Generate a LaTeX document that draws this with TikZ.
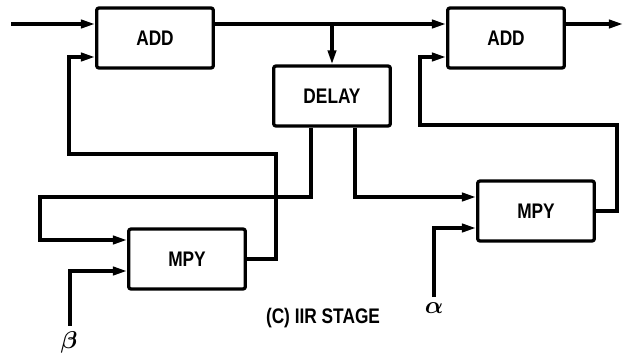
\documentclass[tikz,border=0pt]{standalone}
\usepackage{fontspec}
\setmainfont{Liberation Sans}[FakeStretch=0.82]
\usepackage{bm}
\usetikzlibrary{arrows.meta, positioning, calc}

\begin{document}
\begin{tikzpicture}[x=0.03cm, y=-0.03cm, line width=2.8pt,
  block/.style={draw, rounded corners=2pt, minimum width=3.5cm, minimum height=1.8cm,
    font=\bfseries\fontsize{18}{18}\selectfont},
  sig/.style={-{Triangle[length=12pt, width=7pt]}}]
  \useasboundingbox (0,0) rectangle (623,358);

  \node[block] (add1)  at (155,38)  {ADD};
  \node[block] (add2)  at (506,38)  {ADD};
  \node[block] (delay) at (332,96)  {DELAY};
  \node[block] (mpy1)  at (187,259) {MPY};
  \node[block] (mpy2)  at (536,211) {MPY};

  \node (beta)  at (69,342)  {\fontsize{20}{20}\selectfont$\bm{\beta}$};
  \node (alpha) at (434,308) {\fontsize{20}{20}\selectfont$\bm{\alpha}$};
  \node[font=\bfseries\fontsize{18}{18}\selectfont] (caption) at (323,318) {(C) IIR STAGE};

  \coordinate (in)  at (11,24);
  \coordinate (out) at (623,24);
  \coordinate (tap) at (delay.north |- in);

  \draw[sig] (in) -- (in -| add1.west);
  \draw[sig] (add1.east |- in) -- (add2.west |- in);
  \draw[sig] (tap) -- (delay.north);
  \draw[sig] (add2.east |- in) -- (out);

  \draw[sig] (mpy1.east) -| (276,154) -| (69,57) -- ($(add1.west)+(0,19)$);
  \draw[sig] (mpy2.east) -| (617,125) -| (420,57) -- ($(add2.west)+(0,19)$);

  \draw[sig] ($(delay.south)+(-21,0)$) |- (40,197) |- ($(mpy1.west)+(0,-19)$);
  \draw[sig] ($(delay.south)+(23,0)$) |- ($(mpy2.west)+(0,-14)$);

  \draw[sig] ($(beta.north)+(1,0)$) |- ($(mpy1.west)+(0,12)$);
  \draw[sig] (alpha.north) |- ($(mpy2.west)+(0,17)$);
\end{tikzpicture}
\end{document}
